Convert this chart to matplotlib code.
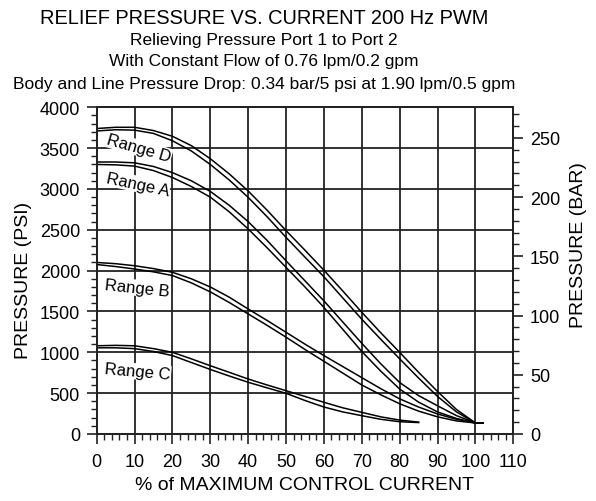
import numpy as np
import matplotlib
matplotlib.use("Agg")
import matplotlib.pyplot as plt
from matplotlib.ticker import MultipleLocator

plt.rcParams['font.family'] = ['Liberation Sans', 'DejaVu Sans']

# % of max control current
x = [0, 5, 10, 15, 20, 25, 30, 35, 40, 45, 50, 55, 60, 65, 70, 75, 80, 85, 90, 95, 100, 102]
xc = [0, 5, 10, 15, 20, 25, 30, 35, 40, 45, 50, 55, 60, 65, 70, 75, 80, 85]

# each range drawn as a double line (upper / lower edge), psi
d_up = [3740, 3755, 3755, 3715, 3645, 3530, 3370, 3185, 2975, 2740, 2490, 2250,
        2005, 1750, 1490, 1240, 1000, 755, 520, 300, 135, 135]
d_lo = [3710, 3725, 3720, 3680, 3590, 3465, 3300, 3110, 2897, 2660, 2407, 2165,
        1925, 1665, 1405, 1160, 920, 685, 460, 270, 135, 135]
a_up = [3330, 3330, 3320, 3275, 3200, 3100, 2970, 2800, 2600, 2370, 2120, 1875,
        1630, 1370, 1110, 860, 630, 470, 345, 225, 135, 135]
a_lo = [3300, 3295, 3280, 3225, 3140, 3030, 2900, 2720, 2510, 2280, 2040, 1800,
        1550, 1280, 1010, 770, 550, 390, 270, 190, 135, 135]
b_up = [2100, 2085, 2060, 2025, 1980, 1900, 1800, 1675, 1530, 1390, 1245, 1100,
        960, 825, 690, 555, 430, 330, 245, 180, 135, 135]
b_lo = [2075, 2050, 2020, 1985, 1940, 1850, 1740, 1610, 1470, 1330, 1185, 1035,
        890, 745, 600, 480, 370, 280, 210, 160, 135, 135]
c_up = [1080, 1085, 1080, 1045, 1000, 920, 836, 755, 673, 600, 530, 460,
        388, 320, 265, 210, 170, 145]
c_lo = [1055, 1055, 1045, 1010, 960, 875, 790, 710, 633, 565, 498, 410,
        330, 270, 224, 180, 150, 140]

labels = ["Range D", "Range A", "Range B", "Range C"]
label_x = [11.2, 10.8, 10.6, 10.8]
label_y = [3500, 3060, 1790, 765]
label_rot = [-16, -12, -6, -5]

PSI_PER_BAR = 14.5038

fig = plt.figure(figsize=(5.96, 5.02), dpi=100)
ax = fig.add_axes([0.1622, 0.1335, 0.699, 0.6508])

for up, lo in [(d_up, d_lo), (a_up, a_lo), (b_up, b_lo)]:
    ax.plot(x, up, color='black', lw=1.1, zorder=3)
    ax.plot(x, lo, color='black', lw=1.1, zorder=3)
ax.plot(xc, c_up, color='black', lw=1.1, zorder=3)
ax.plot(xc, c_lo, color='black', lw=1.1, zorder=3)

for t, lx, ly, r in zip(labels, label_x, label_y, label_rot):
    ax.text(lx, ly, t, fontsize=12, rotation=r, ha='center', va='center',
            rotation_mode='anchor', zorder=4,
            bbox=dict(facecolor='white', edgecolor='none', pad=0.5))

ax.set_xlim(0, 110)
ax.set_ylim(0, 4000)
ax.xaxis.set_major_locator(MultipleLocator(10))
ax.xaxis.set_minor_locator(MultipleLocator(2))
ax.yaxis.set_major_locator(MultipleLocator(500))
ax.yaxis.set_minor_locator(MultipleLocator(100))
ax.grid(True, which='major', color='#222222', lw=1.3)
ax.set_axisbelow(True)
for s in ax.spines.values():
    s.set_linewidth(1.3)
    s.set_color('#222222')
ax.tick_params(which='major', length=7, width=1.2, labelsize=13, color='#222222')
ax.tick_params(which='minor', length=4.5, width=1.0, color='#222222')
ax.tick_params(axis='x', pad=7)
ax.tick_params(axis='y', pad=5)
ax.set_xlabel('% of MAXIMUM CONTROL CURRENT', fontsize=14, labelpad=4)
ax.set_ylabel('PRESSURE (PSI)', fontsize=14)
ax.yaxis.set_label_coords(-0.155, 0.474)

ax2 = ax.twinx()
ax2.set_ylim(0, 4000 / PSI_PER_BAR)
ax2.yaxis.set_major_locator(MultipleLocator(50))
ax2.yaxis.set_minor_locator(MultipleLocator(10))
ax2.tick_params(which='major', length=7, width=1.2, labelsize=13, color='#222222', pad=5)
ax2.tick_params(which='minor', length=4.5, width=1.0, color='#222222')
ax2.set_ylabel('PRESSURE (BAR)', fontsize=14)
ax2.yaxis.set_label_coords(1.135, 0.58)
for s in ax2.spines.values():
    s.set_linewidth(1.3)
    s.set_color('#222222')

cx = 0.443
fig.text(cx, 0.963, 'RELIEF PRESSURE VS. CURRENT 200 Hz PWM', fontsize=14.4,
         ha='center', va='center')
fig.text(cx, 0.919, 'Relieving Pressure Port 1 to Port 2', fontsize=12.5,
         ha='center', va='center')
fig.text(cx, 0.877, 'With Constant Flow of 0.76 lpm/0.2 gpm', fontsize=12.5,
         ha='center', va='center')
fig.text(cx, 0.831, 'Body and Line Pressure Drop: 0.34 bar/5 psi at 1.90 lpm/0.5 gpm',
         fontsize=12.5, ha='center', va='center')

fig.savefig('out.png', dpi=100)
